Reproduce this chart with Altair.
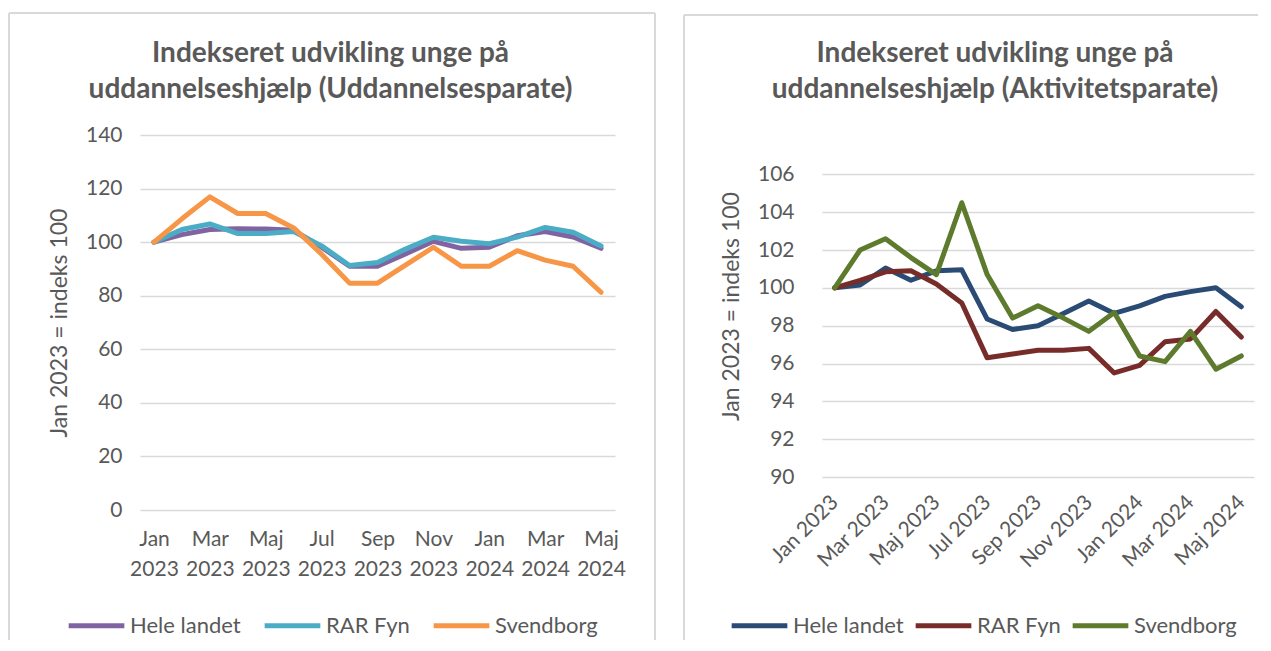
import altair as alt
import pandas as pd

months = ["Jan 2023", "Feb 2023", "Mar 2023", "Apr 2023", "Maj 2023", "Jun 2023",
          "Jul 2023", "Aug 2023", "Sep 2023", "Okt 2023", "Nov 2023", "Dec 2023",
          "Jan 2024", "Feb 2024", "Mar 2024", "Apr 2024", "Maj 2024"]
label_months = months[::2]
series = ["Hele landet", "RAR Fyn", "Svendborg"]

# Uddannelsesparate
udd_hele = [100, 102.8, 104.7, 105.0, 104.9, 104.4, 98.1, 91.0, 91.0, 95.6, 100.3,
            97.7, 98.1, 102.4, 104.0, 101.9, 97.7]
udd_rar = [100, 104.7, 106.8, 103.2, 103.2, 104.0, 98.6, 91.3, 92.4, 97.4, 101.8,
           100.3, 99.4, 101.9, 105.5, 103.7, 98.6]
udd_svend = [100, 108.7, 116.9, 110.7, 110.7, 105.3, 95.5, 84.7, 84.7, 91.4, 98.1,
             91.0, 91.0, 96.8, 93.3, 91.0, 81.3]

# Aktivitetsparate
akt_hele = [100, 100.15, 101.05, 100.4, 100.9, 100.95, 98.35, 97.8, 98.0, 98.65, 99.3,
            98.65, 99.05, 99.55, 99.8, 100.0, 99.0]
akt_rar = [100, 100.4, 100.85, 100.9, 100.2, 99.2, 96.3, 96.5, 96.7, 96.7, 96.8,
           95.5, 95.9, 97.15, 97.3, 98.75, 97.4]
akt_svend = [100, 102.0, 102.6, 101.6, 100.7, 104.5, 100.7, 98.4, 99.05, 98.4, 97.7,
             98.7, 96.4, 96.1, 97.7, 95.7, 96.4]

title_left = ["Indekseret udvikling unge på", "uddannelseshjælp (Uddannelsesparate)"]
title_right = ["Indekseret udvikling unge på", "uddannelseshjælp (Aktivitetsparate)"]
y_title = "Jan 2023 = indeks 100"

colors_left = ["#8064A2", "#4BACC6", "#F79646"]
colors_right = ["#2A4B74", "#772C2A", "#5E7A2D"]

FONT = "Lato"
GREY = "#595959"
FRAME = "#D9D9D9"


def long_df(values_list):
    rows = []
    for k, (s, vals) in enumerate(zip(series, values_list)):
        for m, v in zip(months, vals):
            rows.append({"Måned": m, "Serie": s, "Indeks": v, "order": k})
    return pd.DataFrame(rows)


df_left = long_df([udd_hele, udd_rar, udd_svend])
df_right = long_df([akt_hele, akt_rar, akt_svend])
frame_df = pd.DataFrame({"f": [0]})


def vline(x, y1, y2):
    return alt.Chart(frame_df).mark_rule(color=FRAME, strokeWidth=2).encode(
        x=alt.value(x), y=alt.value(y1), y2=alt.value(y2))


def hline(x1, x2, y):
    return alt.Chart(frame_df).mark_rule(color=FRAME, strokeWidth=2).encode(
        x=alt.value(x1), x2=alt.value(x2), y=alt.value(y))


def panel(df, title, colors, ydom, yvals, width, height, xaxis, legend_xy,
          col_pad, ylabel_pad, title_offset, title_dx, frame_layers):
    legend = alt.Legend(title=None, orient="none", legendX=legend_xy[0],
                        legendY=legend_xy[1], direction="horizontal",
                        symbolType="stroke", symbolSize=3100, symbolStrokeWidth=5,
                        labelFont=FONT, labelFontSize=22, labelColor=GREY,
                        labelOffset=3, columnPadding=col_pad)
    lines = alt.Chart(df).mark_line(strokeWidth=5, strokeCap="round",
                                    strokeJoin="round").encode(
        x=alt.X("Måned:N", sort=months,
                scale=alt.Scale(type="point", padding=0.5),
                axis=xaxis),
        y=alt.Y("Indeks:Q", scale=alt.Scale(domain=ydom, nice=False, zero=False),
                axis=alt.Axis(values=yvals, title=y_title, grid=True,
                              gridColor="#D9D9D9", gridWidth=1.5, domain=False,
                              ticks=False, labelFont=FONT, labelFontSize=21,
                              labelColor=GREY, labelPadding=ylabel_pad,
                              titleFont=FONT, titleFontSize=23,
                              titleFontWeight="normal", titleColor=GREY,
                              titlePadding=14)),
        color=alt.Color("Serie:N", sort=series,
                        scale=alt.Scale(domain=series, range=colors),
                        legend=legend),
        order=alt.Order("order:Q"),
        detail="Serie:N",
    )
    return alt.layer(*frame_layers, lines).properties(
        width=width, height=height,
        title=alt.TitleParams(title, fontSize=28, fontWeight="bold", color=GREY,
                              font=FONT, lineHeight=36, anchor="middle",
                              frame="group", dx=title_dx, offset=title_offset),
    )


xaxis_left = alt.Axis(values=label_months, title=None, labelAngle=0,
                      labelExpr="split(datum.label, ' ')", labelFont=FONT,
                      labelFontSize=21, labelColor=GREY, labelLineHeight=30,
                      labelPadding=18, ticks=False, domain=False, grid=False)
xaxis_right = alt.Axis(values=label_months, title=None, labelAngle=-45,
                       labelAlign="right", labelBaseline="middle", labelFont=FONT,
                       labelFontSize=21, labelColor=GREY, labelPadding=22,
                       ticks=False, domain=False, grid=False)

left_frame = [vline(-131, -122, 505), vline(515, -122, 505), hline(-131, 515, -122)]
right_frame = [vline(-138, -120, 505), hline(-138, 436, -120)]

left = panel(df_left, title_left, colors_left, (0, 140), list(range(0, 141, 20)),
             475, 375, xaxis_left, (-74, 460), 13, 18, -92, -47, left_frame)
right = panel(df_right, title_right, colors_right, (90, 108.08),
              list(range(90, 107, 2)), 432, 342, xaxis_right, (-93, 460), 1, 28,
              -90, -43, right_frame)

chart = alt.hconcat(left, right, spacing=27).resolve_scale(
    color="independent"
).resolve_legend(color="independent").properties(
    padding={"left": 0, "top": 4, "right": 0, "bottom": 0},
    background="white",
).configure_view(stroke=None)

chart.save("out.html", embed_options={"renderer": "svg", "actions": False})
